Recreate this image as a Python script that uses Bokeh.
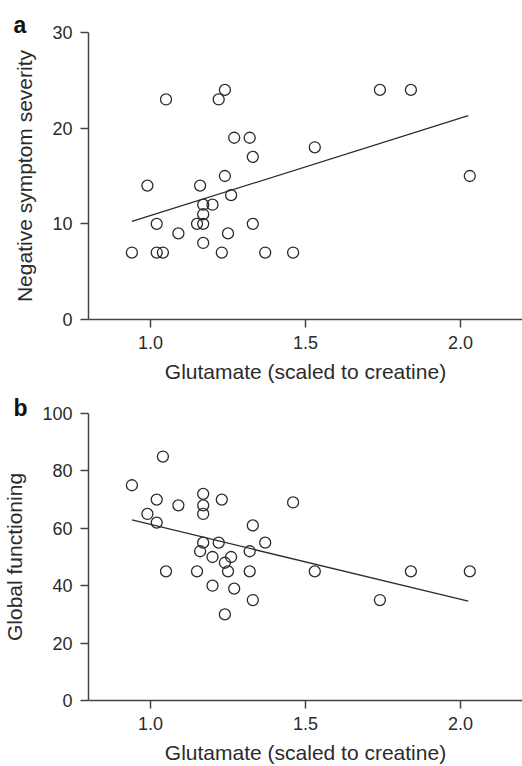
from bokeh.plotting import figure
from bokeh.layouts import column
from bokeh.models import Range1d, FixedTicker, NumeralTickFormatter
from bokeh.embed import file_html
from bokeh.resources import INLINE

# Panel a: negative symptom severity vs glutamate
glu_a = [0.94, 0.99, 1.02, 1.02, 1.04, 1.05, 1.09, 1.15, 1.16, 1.17,
         1.17, 1.17, 1.17, 1.20, 1.22, 1.23, 1.24, 1.24, 1.25, 1.26,
         1.27, 1.32, 1.33, 1.33, 1.37, 1.46, 1.53, 1.74, 1.84, 2.03]
neg_a = [7, 14, 10, 7, 7, 23, 9, 10, 14, 12,
         11, 10, 8, 12, 23, 7, 24, 15, 9, 13,
         19, 19, 17, 10, 7, 7, 18, 24, 24, 15]
fit_a_x = [0.94, 2.025]
fit_a_y = [10.25, 21.3]

# Panel b: global functioning vs glutamate
glu_b = [1.04, 0.94, 1.02, 1.17, 1.23, 1.09, 1.17, 1.46, 0.99, 1.17,
         1.02, 1.33, 1.17, 1.22, 1.37, 1.16, 1.32, 1.20, 1.26, 1.24,
         1.05, 1.15, 1.25, 1.32, 1.53, 1.84, 2.03, 1.20, 1.27, 1.33,
         1.74, 1.24]
gaf_b = [85, 75, 70, 72, 70, 68, 68, 69, 65, 65,
         62, 61, 55, 55, 55, 52, 52, 50, 50, 48,
         45, 45, 45, 45, 45, 45, 45, 40, 39, 35,
         35, 30]
fit_b_x = [0.94, 2.025]
fit_b_y = [62.9, 34.6]

x_ticks = [1.0, 1.5, 2.0]
y_ticks_a = [0, 10, 20, 30]
y_ticks_b = [0, 20, 40, 60, 80, 100]

FONT = "Liberation Sans"
INK = "#2b2b2b"
AXC = "#444444"


def make_panel(xs, ys, fx, fy, yr, yticks, ylabel, letter, height, top, title_standoff):
    p = figure(width=522, height=height, output_backend="svg", toolbar_location=None,
               x_range=Range1d(0.8, 2.2), y_range=Range1d(*yr),
               min_border_left=88, min_border_right=0, min_border_top=top,
               min_border_bottom=64, title=letter)
    p.title.align = "left"
    p.title.offset = -75
    p.title.standoff = title_standoff
    p.title.text_font = FONT
    p.title.text_font_size = "23px"
    p.title.text_font_style = "bold"
    p.title.text_color = "#111111"
    p.outline_line_color = None
    p.xgrid.visible = False
    p.ygrid.visible = False
    p.background_fill_color = "white"
    p.border_fill_color = "white"
    p.xaxis.ticker = FixedTicker(ticks=x_ticks)
    p.xaxis.formatter = NumeralTickFormatter(format="0.0")
    p.yaxis.ticker = FixedTicker(ticks=yticks)
    p.xaxis.axis_label = "Glutamate (scaled to creatine)"
    p.yaxis.axis_label = ylabel
    for ax in (p.xaxis[0], p.yaxis[0]):
        ax.axis_line_color = AXC
        ax.axis_line_width = 1.5
        ax.major_tick_line_color = AXC
        ax.major_tick_line_width = 1.5
        ax.major_tick_out = 8
        ax.major_tick_in = 0
        ax.minor_tick_line_color = None
        ax.major_label_text_font = FONT
        ax.major_label_text_font_size = "18px"
        ax.major_label_text_color = INK
        ax.axis_label_text_font = FONT
        ax.axis_label_text_font_size = "21px"
        ax.axis_label_text_font_style = "normal"
        ax.axis_label_text_color = INK
    p.xaxis.major_label_standoff = 8
    p.xaxis.axis_label_standoff = 8
    p.yaxis.major_label_standoff = 8
    p.yaxis.axis_label_standoff = 13
    p.line(fx, fy, line_color=INK, line_width=1.3)
    p.scatter(xs, ys, marker="circle", size=11, fill_color=None,
              line_color=INK, line_width=1.3)
    return p


pa = make_panel(glu_a, neg_a, fit_a_x, fit_a_y, (0, 30), y_ticks_a,
                "Negative symptom severity", "a", 385, 32, -11)
pb = make_panel(glu_b, gaf_b, fit_b_x, fit_b_y, (0, 100), y_ticks_b,
                "Global functioning", "b", 381, 28, -14)

layout = column(pa, pb, spacing=0)
open("out.html", "w").write(file_html(layout, INLINE))
